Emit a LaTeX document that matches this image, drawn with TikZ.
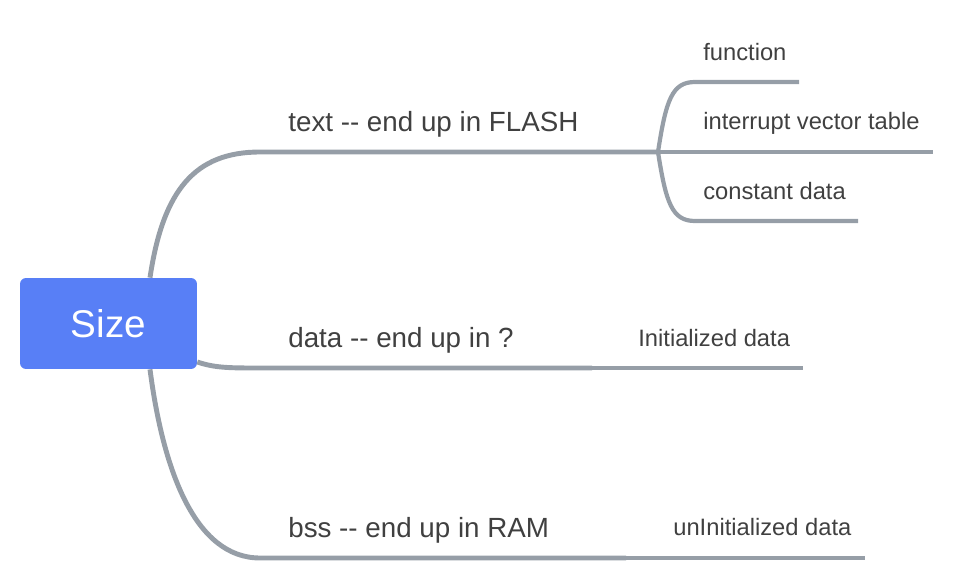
\documentclass[tikz,border=0pt]{standalone}
\usepackage{fontspec}
\setmainfont{Liberation Sans}
\usetikzlibrary{positioning}
\definecolor{rootblue}{HTML}{587FF6}
\definecolor{linegray}{HTML}{969EA7}
\definecolor{textgray}{HTML}{404040}
\tikzstyle{root} = [rectangle, rounded corners=0.12cm, minimum width=3.54cm, minimum height=1.82cm, fill=rootblue, text=white, font=\fontsize{22}{26}\selectfont]
\tikzstyle{topic} = [anchor=base west, inner sep=0, text=textgray, font=\fontsize{15.8}{19}\selectfont]
\tikzstyle{subtopic} = [anchor=base west, inner sep=0, text=textgray, font=\fontsize{13.5}{16}\selectfont]
\tikzstyle{branch} = [line width=2.8pt, draw=linegray]
\tikzstyle{twig} = [line width=2.4pt, draw=linegray]

\begin{document}
\begin{tikzpicture}[x=0.02cm, y=-0.02cm]
    \useasboundingbox (0,0) rectangle (956,581);

    \node (root) [root] at (108.5,323.5) {Size};

    \node (textseg) [topic] at (288,132) {text -{}- end up in FLASH};
    \node (dataseg) [topic] at (288,347) {data -{}- end up in ?};
    \node (bssseg) [topic] at (288,537) {bss -{}- end up in RAM};

    \node (func) [subtopic] at (703,61) {function};
    \node (ivt) [subtopic] at (703,130) {interrupt vector table};
    \node (const) [subtopic] at (703,199) {constant data};
    \node (init) [subtopic] at (638,346) {Initialized data};
    \node (uninit) [subtopic] at (673,535) {unInitialized data};

    \coordinate (textfork) at (658,152);
    \coordinate (datafork) at (592,368);
    \coordinate (bssfork) at (626,558);
    \coordinate (funcend) at (799,82);
    \coordinate (ivtend) at (933,152);
    \coordinate (constend) at (858,221);
    \coordinate (initend) at (803,368);
    \coordinate (uninitend) at (865,558);

    \draw [branch] ([xshift=0.83cm]root.north) .. controls (163,190) and (195,152) .. (260,152) -- (textfork);
    \draw [branch] ([yshift=-0.77cm]root.east) .. controls (215,368) and (230,368) .. (260,368) -- (datafork);
    \draw [branch] ([xshift=0.83cm]root.south) .. controls (163,470) and (195,558) .. (260,558) -- (bssfork);

    \draw [twig] (textfork) .. controls (666,100) and (672,82) .. (695,82) -- (funcend);
    \draw [twig] (textfork) -- (ivtend);
    \draw [twig] (textfork) .. controls (666,203) and (672,221) .. (695,221) -- (constend);
    \draw [twig] (datafork) -- (initend);
    \draw [twig] (bssfork) -- (uninitend);

\end{tikzpicture}
\end{document}
